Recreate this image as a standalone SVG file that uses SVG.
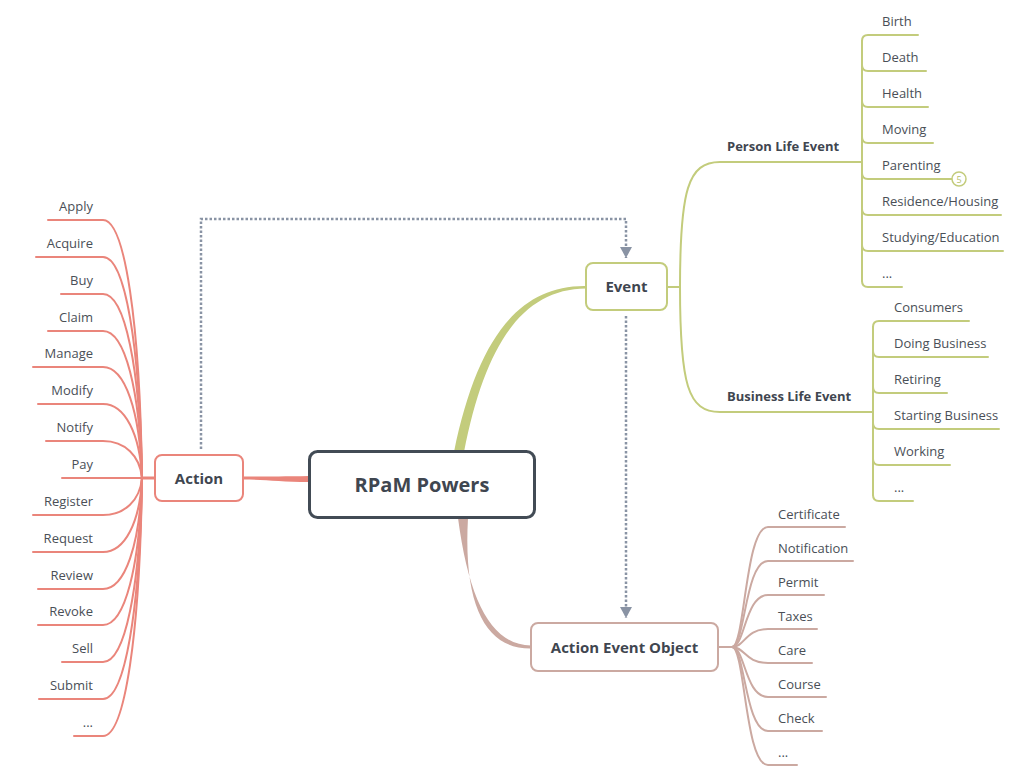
<svg xmlns="http://www.w3.org/2000/svg" width="1032" height="784" viewBox="0 0 1032 784">
<defs>
<style>
.bg{fill:#ffffff}
.leaf{font-family:"Open Sans","Liberation Sans",sans-serif;font-size:13px;fill:#4a4f57}
.sub{font-family:"Open Sans","Liberation Sans",sans-serif;font-size:13px;font-weight:700;fill:#3f4650}
.main{font-family:"Open Sans","Liberation Sans",sans-serif;font-size:15px;font-weight:700;fill:#3f4650}
.root{font-family:"Open Sans","Liberation Sans",sans-serif;font-size:20px;font-weight:700;fill:#3f4650}
.sal{fill:none;stroke:#ea857b;stroke-width:2;stroke-linecap:round}
.grn{fill:none;stroke:#c3cc7c;stroke-width:2;stroke-linecap:round}
.ros{fill:none;stroke:#cba9a1;stroke-width:2;stroke-linecap:round}
.dot{fill:none;stroke:#8993a4;stroke-width:2.5;stroke-dasharray:2.5 2}
</style>
<marker id="arr" markerUnits="userSpaceOnUse" markerWidth="12" markerHeight="12" refX="11" refY="6" orient="auto">
<path d="M0,0 L11,6 L0,12 z" fill="#8993a4"/>
</marker>
</defs>
<rect class="bg" x="0" y="0" width="1032" height="784"/>

<g id="connectors">
<!-- main branches -->
<path d="M454,452 C477,340 518,285 586,286 L586,288.5 C522,289 485,345 464,452 Z" fill="#c3cc7c"/>
<path d="M458,518 C469,602 492,645 531,645.5 L531,648.5 C486,649 463,606 468,518 Z" fill="#cba9a1"/>
<path d="M309,476 C280,476.5 265,476.5 243,476.5 L243,479.5 C265,479.5 280,482 309,482 Z" fill="#ea857b"/>
<!-- dotted relationships -->
<path class="dot" d="M201,449 V219 H626 V258" marker-end="url(#arr)"/>
<path class="dot" d="M626,316 V618" marker-end="url(#arr)"/>

<!-- Action leaves -->
<path d="M141,478 H155" stroke="#ea857b" stroke-width="3"/>
<path class="sal" d="M48,220 H103 C125,220 140,323 142,478"/>
<path class="sal" d="M36,257 H103 C125,257 140,345 142,478"/>
<path class="sal" d="M61,294 H103 C125,294 140,368 142,478"/>
<path class="sal" d="M48,331 H103 C125,331 140,390 142,478"/>
<path class="sal" d="M33,367 H103 C125,367 140,411 142,478"/>
<path class="sal" d="M38,404 H103 C125,404 140,434 142,478"/>
<path class="sal" d="M46,441 H103 C125,441 140,456 142,478"/>
<path class="sal" d="M62,478 H142"/>
<path class="sal" d="M33,515 H103 C125,515 140,500 142,478"/>
<path class="sal" d="M33,552 H103 C125,552 140,522 142,478"/>
<path class="sal" d="M38,589 H103 C125,589 140,545 142,478"/>
<path class="sal" d="M38,625 H103 C125,625 140,566 142,478"/>
<path class="sal" d="M62,662 H103 C125,662 140,588 142,478"/>
<path class="sal" d="M39,699 H103 C125,699 140,609 142,478"/>
<path class="sal" d="M74,736 H103 C125,736 140,633 142,478"/>

<!-- Event branches -->
<path class="grn" d="M667,287 H680" stroke-width="2.5"/>
<path class="grn" d="M680,287 C680,190 688,162 720,162 H862"/>
<path class="grn" d="M680,287 C680,385 688,412 720,412 H873"/>
<!-- Person leaves -->
<path class="grn" d="M862,41 V281"/>
<path class="grn" d="M862,41 Q862,35 868,35 H918"/>
<path class="grn" d="M862,65 Q862,71 868,71 H926"/>
<path class="grn" d="M862,101 Q862,107 868,107 H928"/>
<path class="grn" d="M862,137 Q862,143 868,143 H933"/>
<path class="grn" d="M862,173 Q862,179 868,179 H952"/>
<path class="grn" d="M862,209 Q862,215 868,215 H1001"/>
<path class="grn" d="M862,245 Q862,251 868,251 H1003"/>
<path class="grn" d="M862,281 Q862,287 868,287 H902"/>
<!-- Business leaves -->
<path class="grn" d="M873,327 V495"/>
<path class="grn" d="M873,327 Q873,321 879,321 H969"/>
<path class="grn" d="M873,351 Q873,357 879,357 H988"/>
<path class="grn" d="M873,387 Q873,393 879,393 H947"/>
<path class="grn" d="M873,423 Q873,429 879,429 H999"/>
<path class="grn" d="M873,459 Q873,465 879,465 H950"/>
<path class="grn" d="M873,495 Q873,501 879,501 H913"/>

<!-- AEO leaves -->
<path class="ros" d="M718,647 H732" stroke-width="2.5"/>
<path class="ros" d="M732,647 C745,647 745,527 768,527 H845"/>
<path class="ros" d="M732,647 C745,647 745,561 768,561 H853"/>
<path class="ros" d="M732,647 C745,647 745,595 768,595 H824"/>
<path class="ros" d="M732,647 C745,647 745,629 768,629 H817"/>
<path class="ros" d="M732,647 C745,647 745,663 768,663 H812"/>
<path class="ros" d="M732,647 C745,647 745,697 768,697 H826"/>
<path class="ros" d="M732,647 C745,647 745,731 768,731 H822"/>
<path class="ros" d="M732,647 C745,647 745,765 768,765 H797"/>
</g>

<g id="root">
<rect x="309.5" y="451.5" width="225" height="66" rx="8" fill="#ffffff" stroke="#424b55" stroke-width="3"/>
<text class="root" x="422" y="492" text-anchor="middle">RPaM Powers</text>
</g>

<g id="action">
<rect x="155" y="455" width="88" height="46" rx="7" fill="#ffffff" stroke="#ea857b" stroke-width="2"/>
<text class="main" x="199" y="483.5" text-anchor="middle">Action</text>
</g>

<g id="event">
<rect x="586" y="263" width="81" height="47" rx="7" fill="#ffffff" stroke="#c3cc7c" stroke-width="2"/>
<text class="main" x="626.5" y="292" text-anchor="middle">Event</text>
</g>

<g id="aeo">
<rect x="531" y="623" width="187" height="48" rx="7" fill="#ffffff" stroke="#cba9a1" stroke-width="2"/>
<text class="main" x="624.5" y="652.5" text-anchor="middle">Action Event Object</text>
</g>

<g id="action-leaves">
<text class="leaf" x="93" y="211" text-anchor="end">Apply</text>
<text class="leaf" x="93" y="248" text-anchor="end">Acquire</text>
<text class="leaf" x="93" y="285" text-anchor="end">Buy</text>
<text class="leaf" x="93" y="322" text-anchor="end">Claim</text>
<text class="leaf" x="93" y="358" text-anchor="end">Manage</text>
<text class="leaf" x="93" y="395" text-anchor="end">Modify</text>
<text class="leaf" x="93" y="432" text-anchor="end">Notify</text>
<text class="leaf" x="93" y="469" text-anchor="end">Pay</text>
<text class="leaf" x="93" y="506" text-anchor="end">Register</text>
<text class="leaf" x="93" y="543" text-anchor="end">Request</text>
<text class="leaf" x="93" y="580" text-anchor="end">Review</text>
<text class="leaf" x="93" y="616" text-anchor="end">Revoke</text>
<text class="leaf" x="93" y="653" text-anchor="end">Sell</text>
<text class="leaf" x="93" y="690" text-anchor="end">Submit</text>
<text class="leaf" x="93" y="727" text-anchor="end">...</text>
</g>

<g id="person-life-event">
<text class="sub" x="727" y="151">Person Life Event</text>
<text class="leaf" x="882" y="26">Birth</text>
<text class="leaf" x="882" y="62">Death</text>
<text class="leaf" x="882" y="98">Health</text>
<text class="leaf" x="882" y="134">Moving</text>
<text class="leaf" x="882" y="170">Parenting</text>
<text class="leaf" x="882" y="206">Residence/Housing</text>
<text class="leaf" x="882" y="242">Studying/Education</text>
<text class="leaf" x="882" y="278">...</text>
<circle cx="959" cy="179" r="7" fill="#ffffff" stroke="#c3cc7c" stroke-width="1.5"/>
<text x="959" y="182.5" text-anchor="middle" font-family="'Open Sans','Liberation Sans',sans-serif" font-size="9" fill="#b5bf6a">5</text>
</g>

<g id="business-life-event">
<text class="sub" x="727" y="401">Business Life Event</text>
<text class="leaf" x="894" y="312">Consumers</text>
<text class="leaf" x="894" y="348">Doing Business</text>
<text class="leaf" x="894" y="384">Retiring</text>
<text class="leaf" x="894" y="420">Starting Business</text>
<text class="leaf" x="894" y="456">Working</text>
<text class="leaf" x="894" y="492">...</text>
</g>

<g id="aeo-leaves">
<text class="leaf" x="778" y="519">Certificate</text>
<text class="leaf" x="778" y="553">Notification</text>
<text class="leaf" x="778" y="587">Permit</text>
<text class="leaf" x="778" y="621">Taxes</text>
<text class="leaf" x="778" y="655">Care</text>
<text class="leaf" x="778" y="689">Course</text>
<text class="leaf" x="778" y="723">Check</text>
<text class="leaf" x="778" y="757">...</text>
</g>
</svg>
